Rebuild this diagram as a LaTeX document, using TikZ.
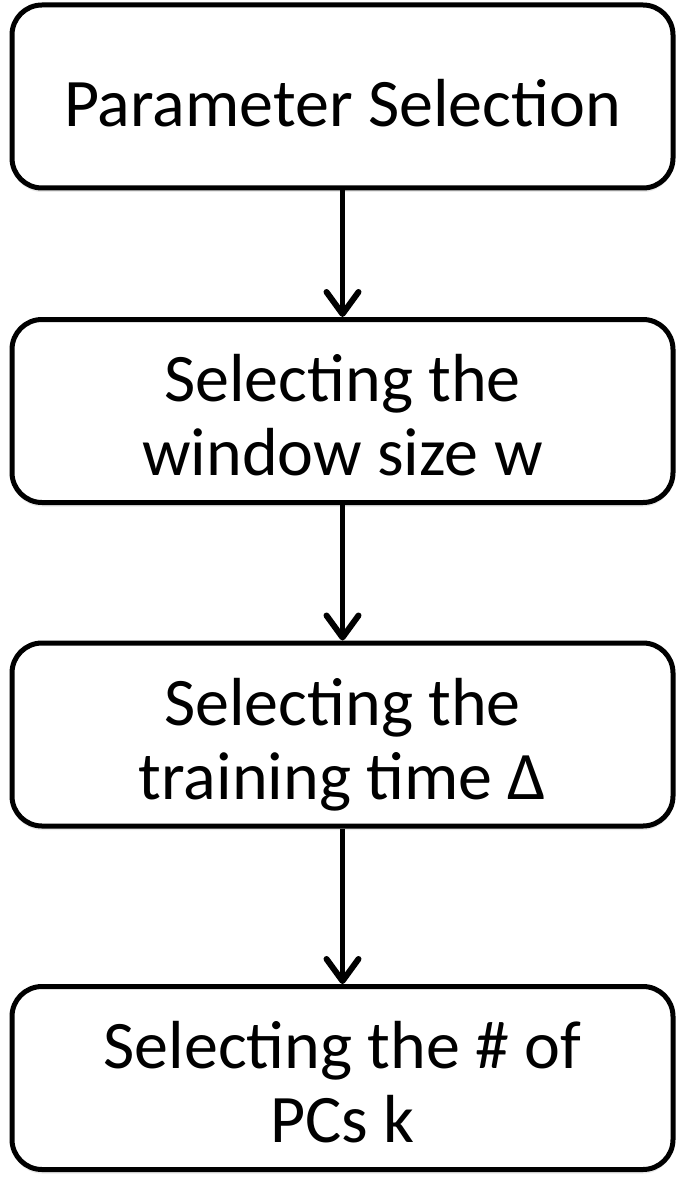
\documentclass[tikz,border=0pt]{standalone}
\usepackage{fontspec}
\setmainfont{Carlito}
\usetikzlibrary{arrows.meta,shadows}
\newcommand{\lowertext}[2]{\raisebox{-#1}[\height][\depth]{#2}}
\begin{document}
\begin{tikzpicture}[x=1pt,y=-1pt,
  stepbox/.style={draw=black, fill=white, line width=5pt, rounded corners=30pt,
    minimum width=661pt, minimum height=183pt, align=center, inner sep=0pt,
    font=\fontsize{68}{67}\selectfont,
    drop shadow={opacity=0.18, shadow xshift=0pt, shadow yshift=-4pt}},
  flow/.style={line width=5pt, -{Straight Barb[length=22pt,width=32pt,line width=6pt,round]}}]
\useasboundingbox (0,0) rectangle (685,1190);
\node[stepbox] (p) at (342.5,96.5) {\lowertext{7pt}{Parameter Selection}};
\node[stepbox] (w) at (342.5,411) {\lowertext{14pt}{\begin{tabular}{@{}c@{}}Selecting the\\[7pt]window size w\end{tabular}}};
\node[stepbox] (t) at (342.5,734.5) {\lowertext{14pt}{\begin{tabular}{@{}c@{}}Selecting the\\[7pt]training time Δ\end{tabular}}};
\node[stepbox] (k) at (342.5,1078) {\lowertext{14pt}{\begin{tabular}{@{}c@{}}Selecting the \# of\\[7pt]PCs k\end{tabular}}};
\draw[flow] (p.south) -- (w.north);
\draw[flow] (w.south) -- (t.north);
\draw[flow] (t.south) -- (k.north);
\end{tikzpicture}
\end{document}
